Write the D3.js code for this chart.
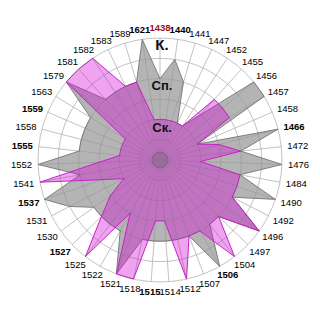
<!DOCTYPE html>
<html>
<head>
<meta charset="utf-8">
<script src="https://cdn.jsdelivr.net/npm/d3@7"></script>
<style>
    body { margin: 0; background: #fff; }
    svg { display: block; font-family: "Liberation Sans", Arial, sans-serif; }
</style>
</head>
<body>
<div id="chart"></div>
<script>
// Categories (years), clockwise from the top
const years = ["1438", "1440", "1441", "1447", "1452", "1455", "1456", "1457", "1458", "1466",
    "1472", "1476", "1484", "1490", "1492", "1496", "1497", "1504", "1506", "1507",
    "1512", "1514", "1515", "1518", "1521", "1522", "1525", "1527", "1530", "1531",
    "1537", "1541", "1552", "1555", "1558", "1559", "1563", "1579", "1581", "1582",
    "1583", "1589", "1621"];

// Series values on a 0..6 scale
const valuesK = [4, 5, 4, 2, 2, 3, 6, 6, 2, 6, 4, 6, 4, 6, 4, 6, 4, 4, 6, 4,
    4, 4, 4, 4, 6, 4, 4, 4, 4, 5, 6, 4, 6, 4, 4, 4, 4, 6, 4, 4, 4, 4, 6];
const valuesSp = [2, 2, 2, 2, 2, 4, 4, 4, 2, 3, 4, 2, 4, 4, 4, 6, 4, 6, 4, 4,
    6, 3, 3, 6, 6, 3, 6, 4, 3, 2, 3, 6, 3, 2, 2, 2, 2, 6, 6, 6, 4, 4, 2];
const valuesSk = [2, 2, 2, 2, 2, 2, 2, 2, 2, 2, 2, 2, 2, 2, 2, 2, 2, 2, 2, 2,
    2, 2, 2, 2, 2, 2, 2, 2, 2, 2, 2, 2, 2, 2, 2, 2, 2, 2, 2, 2, 2, 2, 2];

const seriesNames = ["К.", "Сп.", "Ск."];
const seriesLabelValues = [5.65, 3.65, 1.6];
const boldYears = ["1438", "1440", "1621", "1466", "1506", "1515", "1527", "1537", "1555", "1559"];
const redYear = "1438";
const levels = [1, 2, 3, 4, 5, 6];

const width = 320, height = 320;
const cx = 160, cy = 160, outer = 122;

const svg = d3.select("#chart").append("svg")
    .attr("width", width)
    .attr("height", height);

const g = svg.append("g").attr("transform", `translate(${cx},${cy})`);

const angle = d3.scaleLinear().domain([0, years.length]).range([0, 2 * Math.PI]);
const r = d3.scaleLinear().domain([0, 6]).range([0, outer]);

const line = d3.lineRadial()
    .angle((d, i) => angle(i))
    .radius(d => r(d))
    .curve(d3.curveLinearClosed);

// Grid drawn under the fills (white areas)
function drawGrid(layer, stroke) {
    layer.selectAll("circle")
        .data(levels)
        .join("circle")
        .attr("r", d => r(d))
        .attr("fill", "none")
        .attr("stroke", stroke);
    layer.selectAll("line")
        .data(years)
        .join("line")
        .attr("x2", (d, i) => r(6) * Math.sin(angle(i)))
        .attr("y2", (d, i) => -r(6) * Math.cos(angle(i)))
        .attr("stroke", stroke);
}
drawGrid(g.append("g"), "#dddddd");

// К. (gray)
g.append("path")
    .attr("d", line(valuesK))
    .attr("fill", "#b4b4b4")
    .attr("stroke", "#808080")
    .attr("stroke-width", 1);

// Сп. (translucent magenta)
g.append("path")
    .attr("d", line(valuesSp))
    .attr("fill", "rgb(213,0,213)")
    .attr("fill-opacity", 0.36)
    .attr("stroke", "#c424c4")
    .attr("stroke-width", 1);

// Ск.
g.append("path")
    .attr("d", line(valuesSk))
    .attr("fill", "rgb(192,112,192)")
    .attr("fill-opacity", 0.3)
    .attr("stroke", "none");

// Grid again, faint, on top of the fills
drawGrid(g.append("g"), "rgba(90,90,90,0.18)");

g.append("circle")
    .attr("r", 8)
    .attr("fill", "#9a6c9a")
    .attr("stroke", "#8c608c");

// Series labels along the top axis
g.selectAll(".series-label")
    .data(seriesNames)
    .join("text")
    .attr("class", "series-label")
    .attr("x", 2)
    .attr("y", (d, i) => -r(seriesLabelValues[i]))
    .attr("dy", "0.35em")
    .attr("text-anchor", "middle")
    .style("font-size", (d, i) => i === 0 ? "15px" : "13px")
    .style("font-weight", "bold")
    .attr("fill", "#111")
    .text(d => d);

// Year labels around the circle
const labelR = 128;
const labels = g.selectAll(".year-label")
    .data(years)
    .join("text")
    .attr("class", "year-label")
    .attr("text-anchor", "middle")
    .attr("dy", "0.35em")
    .style("font-size", "9.5px")
    .style("font-weight", d => boldYears.includes(d) ? "bold" : "normal")
    .attr("fill", d => d === redYear ? "#a01010" : "#000")
    .text(d => d);

labels.each(function (d, i) {
    const w = this.getComputedTextLength();
    const s = Math.sin(angle(i)), c = Math.cos(angle(i));
    d3.select(this)
        .attr("x", labelR * s + (w / 2) * s)
        .attr("y", -labelR * c - 4 * c);
});
</script>
</body>
</html>
